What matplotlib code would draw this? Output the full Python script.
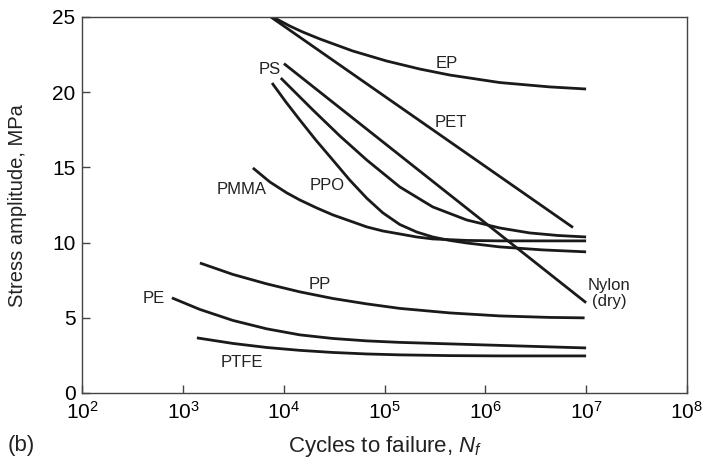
import numpy as np
import matplotlib
matplotlib.use("Agg")
import matplotlib.pyplot as plt

plt.rcParams['font.family'] = ['Liberation Sans', 'DejaVu Sans']
plt.rcParams['mathtext.fontset'] = 'custom'
plt.rcParams['mathtext.rm'] = 'Liberation Sans'
plt.rcParams['mathtext.it'] = 'Liberation Sans:italic'

# curves: log10(cycles) and stress amplitude (MPa)
ep_logn = [3.89, 4.058, 4.187, 4.356, 4.683, 5.021, 5.348, 5.646, 6.142, 6.638, 7.0]
ep_mpa = [25.0, 24.40, 24.00, 23.54, 22.74, 22.07, 21.54, 21.14, 20.64, 20.35, 20.21]

pet_logn = [3.87, 6.87]
pet_mpa = [25.0, 11.0]

nylon_logn = [4.0, 7.0]
nylon_mpa = [21.9, 6.0]

ps_logn = [3.969, 4.128, 4.287, 4.555, 4.822, 5.150, 5.477, 5.815, 6.142, 6.439, 6.717, 7.0]
ps_mpa = [20.94, 19.88, 18.82, 17.09, 15.49, 13.70, 12.37, 11.50, 10.97, 10.64, 10.47, 10.37]

ppo_logn = [3.882, 4.019, 4.158, 4.316, 4.485, 4.654, 4.822, 4.981, 5.150, 5.318,
            5.477, 5.646, 5.815, 6.142, 6.569, 7.0]
ppo_mpa = [20.61, 19.35, 18.15, 16.82, 15.49, 14.15, 12.95, 11.98, 11.20, 10.70,
           10.37, 10.14, 9.97, 9.71, 9.51, 9.38]

pmma_logn = [3.692, 3.860, 4.029, 4.158, 4.326, 4.485, 4.654, 4.822, 4.981, 5.150,
             5.318, 5.477, 5.815, 6.142, 7.0]
pmma_mpa = [14.96, 14.03, 13.30, 12.83, 12.30, 11.84, 11.44, 11.04, 10.77, 10.57,
            10.37, 10.24, 10.14, 10.11, 10.11]

pp_logn = [3.166, 3.493, 3.830, 4.158, 4.485, 4.822, 5.150, 5.646, 6.142, 6.638, 6.985]
pp_mpa = [8.64, 7.88, 7.25, 6.72, 6.28, 5.92, 5.62, 5.32, 5.12, 5.02, 4.99]

pe_logn = [2.888, 3.166, 3.493, 3.830, 4.158, 4.485, 4.822, 5.150, 5.646, 6.142, 7.0]
pe_mpa = [6.32, 5.55, 4.82, 4.26, 3.86, 3.62, 3.46, 3.36, 3.26, 3.16, 2.99]

ptfe_logn = [3.136, 3.493, 3.830, 4.158, 4.485, 4.822, 5.150, 5.646, 6.142, 7.0]
ptfe_mpa = [3.66, 3.29, 3.02, 2.83, 2.69, 2.59, 2.53, 2.48, 2.46, 2.46]

curves = [(ep_logn, ep_mpa), (pet_logn, pet_mpa), (nylon_logn, nylon_mpa),
          (ps_logn, ps_mpa), (ppo_logn, ppo_mpa), (pmma_logn, pmma_mpa),
          (pp_logn, pp_mpa), (pe_logn, pe_mpa), (ptfe_logn, ptfe_mpa)]

# label text and where it sits (log10 cycles, MPa)
labels = ['EP', 'PET', 'PS', 'PMMA', 'PPO', 'PP', 'PE', 'PTFE', 'Nylon\n(dry)']
label_logn = [5.62, 5.66, 3.86, 3.58, 4.43, 4.36, 2.71, 3.58, 7.23]
label_mpa = [21.9, 17.95, 21.5, 13.5, 13.8, 7.2, 6.3, 2.0, 6.6]

fig = plt.figure(figsize=(7.11, 4.59), dpi=100)
ax = fig.add_axes([0.116, 0.144, 0.85, 0.819])

for lx, ly in curves:
    ax.plot(10 ** np.array(lx), ly, color='#1a1a1a', lw=2.0,
            solid_capstyle='butt', solid_joinstyle='round')

for t, lx, ly in zip(labels, label_logn, label_mpa):
    ax.text(10 ** lx, ly, t, fontsize=12, ha='center', va='center',
            color='#222222', linespacing=1.05)

ax.set_xscale('log')
ax.set_xlim(1e2, 1e8)
ax.set_ylim(0, 25)
ax.set_xticks([10 ** k for k in range(2, 9)])
ax.set_yticks([0, 5, 10, 15, 20, 25])
ax.minorticks_off()
ax.tick_params(axis='x', direction='in', length=6, width=1, labelsize=15, pad=5.5, color='#444444')
ax.tick_params(axis='y', direction='in', length=6, width=1, labelsize=15, pad=5, color='#444444')
for s in ax.spines.values():
    s.set_color('#444444')
    s.set_linewidth(1.0)

fig.text(0.5415, 0.028, 'Cycles to failure, $N_f$', fontsize=16, ha='center', va='center',
         color='#222222')
fig.text(0.025, 0.553, 'Stress amplitude, MPa', fontsize=14.5, rotation=90,
         ha='center', va='center', color='#222222')
fig.text(0.011, 0.03, '(b)', fontsize=16, ha='left', va='center', color='#222222')

fig.savefig('out.png', dpi=100)
